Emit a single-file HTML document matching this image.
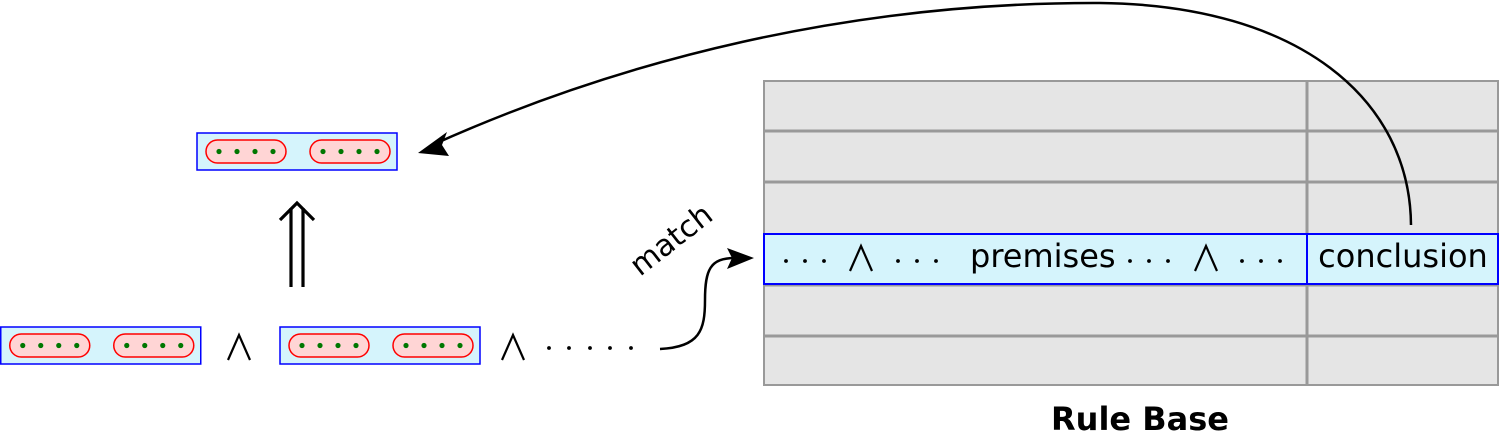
<!DOCTYPE html>
<html><head><meta charset="utf-8"><style>
html,body{margin:0;padding:0;background:#fff}
svg{display:block}
text{font-family:"DejaVu Sans","Liberation Sans",sans-serif}
</style></head><body>
<svg width="1499" height="431" viewBox="0 0 1499 431">
<defs>
<g id="pill"><rect x="0" y="0" width="80" height="23" rx="11.5" fill="#ffd5d5" stroke="#f00" stroke-width="1.5"/>
<circle cx="13" cy="11.5" r="2.6" fill="#070"/><circle cx="31" cy="11.5" r="2.6" fill="#070"/><circle cx="49" cy="11.5" r="2.6" fill="#070"/><circle cx="67" cy="11.5" r="2.6" fill="#070"/></g>
<g id="fact"><rect x="0" y="0" width="200" height="37" fill="#d5f4fc" stroke="#00f" stroke-width="1.5"/><use href="#pill" x="9" y="7"/><use href="#pill" x="113" y="7"/></g>
<g id="wedge"><polyline points="0,25 11,0 22,25" fill="none" stroke="#000" stroke-width="2.2"/></g>
<g id="dots3"><circle cx="0" cy="0" r="1.9"/><circle cx="19" cy="0" r="1.9"/><circle cx="38" cy="0" r="1.9"/></g>
</defs>
<g><use href="#fact" x="197" y="133"/></g>
<g><use href="#fact" x="0.75" y="327"/></g>
<g><use href="#fact" x="280" y="327"/></g>
<g><use href="#wedge" x="228" y="335"/></g>
<g><use href="#wedge" x="502" y="335"/></g>
<g fill="#000"><circle cx="549" cy="348" r="1.9"/><circle cx="569" cy="348" r="1.9"/><circle cx="590" cy="348" r="1.9"/><circle cx="610" cy="348" r="1.9"/><circle cx="631" cy="348" r="1.9"/></g>
<g stroke="#000" stroke-width="3.2" fill="none">
<line x1="291" y1="287" x2="291" y2="208"/><line x1="303" y1="287" x2="303" y2="208"/>
<polyline points="280,220 297,203 314,220"/></g>
<g>
<rect x="764" y="81" width="734" height="304" fill="#e5e5e5" stroke="#999" stroke-width="2"/>
<g stroke="#999" stroke-width="3"><line x1="764" y1="131" x2="1498" y2="131"/><line x1="764" y1="182" x2="1498" y2="182"/><line x1="764" y1="285" x2="1498" y2="285"/><line x1="764" y1="336" x2="1498" y2="336"/><line x1="1307" y1="81" x2="1307" y2="385"/></g>
<rect x="764" y="234" width="543" height="50" fill="#d5f4fc" stroke="#00f" stroke-width="2"/>
<rect x="1307" y="234" width="191" height="50" fill="#d5f4fc" stroke="#00f" stroke-width="2"/>
<g fill="#000"><use href="#dots3" x="786" y="261"/><use href="#dots3" x="898" y="261"/><use href="#dots3" x="1130" y="261"/><use href="#dots3" x="1242" y="261"/></g>
<use href="#wedge" x="850" y="246"/><use href="#wedge" x="1195" y="246"/>
<text x="970" y="267" font-size="32">premises</text>
<text x="1403" y="267" font-size="32" text-anchor="middle">conclusion</text>
</g>
<path d="M1411,225 C1410,100 1300,5 1100,3 C850,2 620,60 430,146" fill="none" stroke="#000" stroke-width="2.5"/>
<polygon points="418,153 447,132 442,145 449,156" fill="#000"/>
<path d="M660,349 C700,347 705,330 705,300 C705,270 710,258 735,258" fill="none" stroke="#000" stroke-width="2.5"/>
<polygon points="754,258 727,248 732,258 727,269" fill="#000"/>
<text x="0" y="0" font-size="30" transform="translate(640,277) rotate(-38)">match</text>
<text x="1140" y="430" font-size="32" font-weight="bold" text-anchor="middle">Rule Base</text>
</svg>
</body></html>
